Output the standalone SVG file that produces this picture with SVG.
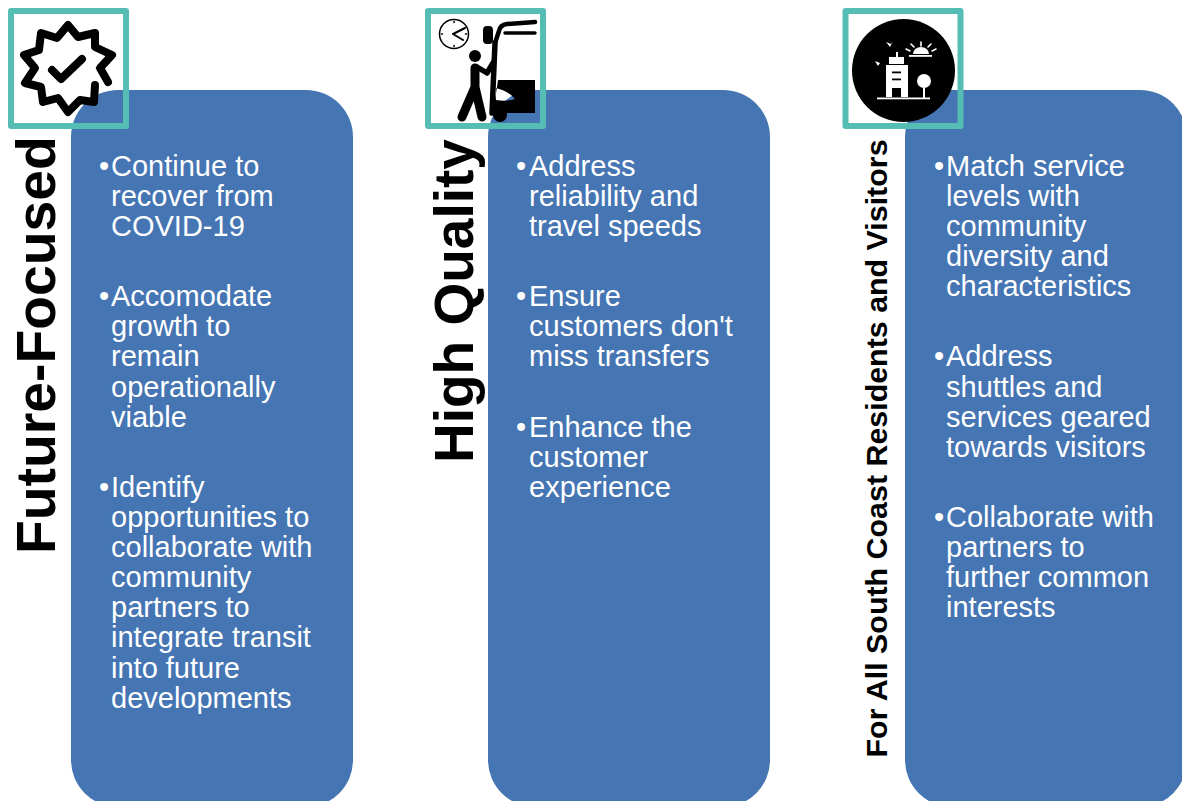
<svg xmlns="http://www.w3.org/2000/svg" width="1182" height="801" viewBox="0 0 1182 801">
<style>
text{font-family:"Liberation Sans",Arial,sans-serif}
.card{fill:#4575b3}
.frame{fill:none;stroke:#55bdb4;stroke-width:6;stroke-linejoin:round}
.body{font-size:29px;fill:#fff}
.head{font-weight:bold;fill:#000}
.k{fill:none;stroke:#000;stroke-linecap:round;stroke-linejoin:round}
.w{fill:none;stroke:#fff;stroke-linecap:round;stroke-linejoin:round}
</style>
<rect width="1182" height="801" fill="#fff"/>
<g id="column-future-focused">
<rect class="card" x="71" y="90" width="282" height="717" rx="47"/>
<text class="head" font-size="55.300" transform="translate(55 554) rotate(-90)">Future-Focused</text>
<g class="body" transform="translate(0 1)">
<text x="99" y="175">•</text><text x="111" y="175">Continue to</text><text x="111" y="205">recover from</text><text x="111" y="235">COVID-19</text>
<text x="99" y="305">•</text><text x="111" y="305">Accomodate</text><text x="111" y="335">growth to</text><text x="111" y="365">remain</text><text x="111" y="396">operationally</text><text x="111" y="426">viable</text>
<text x="99" y="496">•</text><text x="111" y="496">Identify</text><text x="111" y="526">opportunities to</text><text x="111" y="556">collaborate with</text><text x="111" y="586">community</text><text x="111" y="616">partners to</text><text x="111" y="646">integrate transit</text><text x="111" y="677">into future</text><text x="111" y="707">developments</text>
</g>
<path class="k" stroke-width="8" d="M108 82 L100 68 L112 55 L95 47 L95 33 L78 37 L68 25 L57 38 L41 33 L39 50 L24 55 L35 68 L25 83 L41 87 L43 102 L58 98 L68 112 L80 100 L94 102 L95 85"/>
<path class="k" stroke-width="8" d="M52 70 L61 79 L82 59"/>
<rect class="frame" x="11" y="11" width="115" height="115"/>
</g>
<g id="column-high-quality">
<rect class="card" x="488" y="90" width="282" height="717" rx="47"/>
<text class="head" font-size="55" transform="translate(472.500 463) rotate(-90)">High Quality</text>
<g class="body" transform="translate(0 1)">
<text x="516" y="175">•</text><text x="529" y="175">Address</text><text x="529" y="205">reliability and</text><text x="529" y="235">travel speeds</text>
<text x="516" y="305">•</text><text x="529" y="305">Ensure</text><text x="529" y="335">customers don't</text><text x="529" y="365">miss transfers</text>
<text x="516" y="436">•</text><text x="529" y="436">Enhance the</text><text x="529" y="466">customer</text><text x="529" y="496">experience</text>
</g>
<circle cx="454" cy="34" r="14.500" fill="#fff" stroke="#000" stroke-width="1.500"/>
<path class="k" stroke-width="2" d="M465 28 L453 34 L463 40"/>
<path class="k" stroke-width="1.500" d="M454 21.500 V22.500 M454 45.500 V46.500 M441.500 34 H442.500 M465.500 34 H466.500"/>
<path class="k" stroke-width="4.500" d="M535 22 L507 24 Q500 25 499 31 L495 43"/>
<path class="k" stroke-width="3.500" d="M535 33 L505 33"/>
<path class="k" stroke-width="5.500" d="M495 43 L492 113"/>
<rect x="483" y="26" width="10" height="18" rx="4"/>
<circle cx="475" cy="56" r="6"/>
<path class="k" stroke-width="9" d="M475 68 L475 87 L462 117 M475 87 L482 117"/>
<path class="k" stroke-width="5.500" d="M477 67 L487 73 L493 63"/>
<path fill-rule="evenodd" d="M498 80 H535 V113 H507 V115 A7 7 0 0 1 493 115 L495 100 Z M496 88 C504 90 511 94 515 99 C509 101 503 101 496 100 Z"/>
<rect class="frame" x="428" y="11" width="115" height="115"/>
</g>
<g id="column-residents-visitors">
<rect class="card" x="905" y="90" width="282" height="717" rx="47"/>
<text class="head" font-size="30.400" transform="translate(887 757.500) rotate(-90)">For All South Coast Residents and Visitors</text>
<g class="body" transform="translate(0 1)">
<text x="934" y="175">•</text><text x="946" y="175">Match service</text><text x="946" y="205">levels with</text><text x="946" y="235">community</text><text x="946" y="265">diversity and</text><text x="946" y="295">characteristics</text>
<text x="934" y="365">•</text><text x="946" y="365">Address</text><text x="946" y="396">shuttles and</text><text x="946" y="426">services geared</text><text x="946" y="456">towards visitors</text>
<text x="934" y="526">•</text><text x="946" y="526">Collaborate with</text><text x="946" y="556">partners to</text><text x="946" y="586">further common</text><text x="946" y="616">interests</text>
</g>
<circle cx="903.500" cy="70.500" r="51.500" fill="#000"/>
<g fill="#fff">
<rect x="886" y="65" width="22" height="32"/>
<rect x="889" y="57" width="15" height="7"/>
<rect x="896" y="52" width="2" height="5"/>
<rect x="877" y="97.500" width="53" height="1.800"/>
<circle cx="924" cy="81" r="7"/>
<rect x="923" y="88" width="2" height="10"/>
<rect x="909" y="55" width="23" height="1.800"/>
<path d="M913 54 A8 7 0 0 1 929 54 Z"/>
<path d="M886 42 L891 44 L893 41 L890 47 Z M875 61 L880 63 L882 60 L878 66 Z"/>
</g>
<g fill="#000"><rect x="892" y="71.500" width="9" height="1.800"/><rect x="892" y="78.500" width="9" height="1.800"/><rect x="892" y="88" width="9" height="9"/></g>
<path class="w" stroke-width="1.600" d="M921 46 V42 M914 47 L911 44 M928 47 L931 44 M910 51 L906 49 M932 51 L936 49"/>
<rect class="frame" x="845.500" y="11" width="115" height="115"/>
</g>
</svg>
